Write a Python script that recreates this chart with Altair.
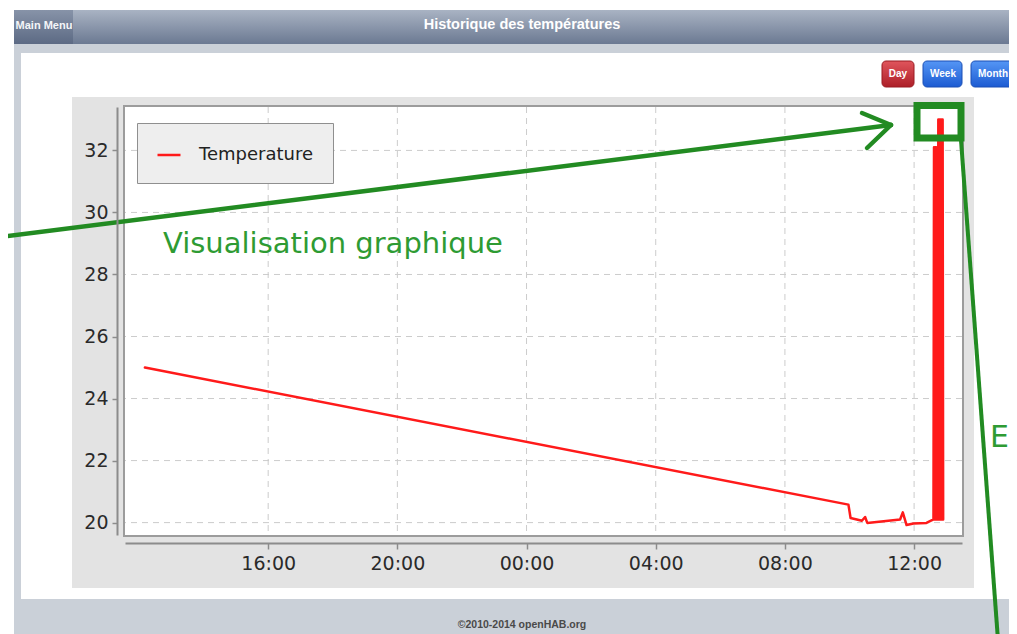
import altair as alt
import pandas as pd

# ---------------- data ----------------
series_name = "Temperature"
times = [
    "2014-06-10T12:11", "2014-06-11T09:58", "2014-06-11T10:02", "2014-06-11T10:23",
    "2014-06-11T10:29", "2014-06-11T10:33", "2014-06-11T11:34", "2014-06-11T11:39",
    "2014-06-11T11:46", "2014-06-11T11:59", "2014-06-11T12:23", "2014-06-11T12:36",
    "2014-06-11T12:37", "2014-06-11T12:38", "2014-06-11T12:39", "2014-06-11T12:40",
    "2014-06-11T12:41", "2014-06-11T12:42", "2014-06-11T12:43", "2014-06-11T12:44",
    "2014-06-11T12:45", "2014-06-11T12:46", "2014-06-11T12:47", "2014-06-11T12:48",
    "2014-06-11T12:49", "2014-06-11T12:50", "2014-06-11T12:51", "2014-06-11T12:52",
    "2014-06-11T12:53", "2014-06-11T12:54",
]
temps = [
    25.0, 20.58, 20.15, 20.06,
    20.18, 19.99, 20.10, 20.33,
    19.92, 19.97, 19.99, 20.10,
    32.1, 20.1, 32.1, 20.1,
    32.1, 20.1, 32.1, 20.1,
    33.0, 20.1, 33.0, 20.1,
    33.0, 20.1, 33.0, 20.1,
    33.0, 20.1,
]
y_ticks = [20, 22, 24, 26, 28, 30, 32]
x_ticks = [(2014, 6, 10, 16), (2014, 6, 10, 20), (2014, 6, 11, 0),
           (2014, 6, 11, 4), (2014, 6, 11, 8), (2014, 6, 11, 12)]
x_tick_strings = ["%04d-%02d-%02dT%02d:00" % t for t in x_ticks]

line_df = pd.DataFrame({"t": times, "v": temps, "series": [series_name] * len(times)})
ygrid_df = pd.DataFrame({"v": y_ticks})
xgrid_df = pd.DataFrame({"t": x_tick_strings})
dummy = pd.DataFrame({"d": [0]})

# ---------------- scales / axes ----------------
FONT = "DejaVu Sans"
xs = alt.Scale(domain=[alt.DateTime(year=2014, month=6, date=10, hours=11, minutes=34),
                       alt.DateTime(year=2014, month=6, date=11, hours=13, minutes=29)],
               nice=False)
ys = alt.Scale(domain=[19.6, 33.4], nice=False, zero=False)
xaxis = alt.Axis(values=[alt.DateTime(year=a, month=b, date=c, hours=d) for a, b, c, d in x_ticks],
                 format="%H:%M", title=None, grid=False, offset=8, tickSize=6, labelPadding=5,
                 domainColor="#8c8c8c", domainWidth=2, tickColor="#8c8c8c", tickWidth=1.5,
                 labelFont=FONT, labelFontSize=19, labelColor="#2a2a2a", zindex=1)
yaxis = alt.Axis(values=y_ticks, title=None, grid=False, offset=8, tickSize=5, labelPadding=4,
                 domainColor="#8c8c8c", domainWidth=2, tickColor="#8c8c8c", tickWidth=1.5,
                 labelFont=FONT, labelFontSize=19, labelColor="#2a2a2a", zindex=1)

OX, OY = 125, 107  # page position of plot origin


def px(x):
    return x - OX


def py(y):
    return y - OY


def grad(c1, c2):
    return {"gradient": "linear", "x1": 0, "y1": 0, "x2": 0, "y2": 1,
            "stops": [{"offset": 0, "color": c1}, {"offset": 1, "color": c2}]}


def rect(x1, x2, y1, y2, **kw):
    return alt.Chart(dummy).mark_rect(**kw).encode(
        x=alt.value(px(x1)), x2=alt.value(px(x2)), y=alt.value(py(y1)), y2=alt.value(py(y2)))


def seg(x1, y1, x2, y2, **kw):
    return alt.Chart(dummy).mark_rule(**kw).encode(
        x=alt.value(px(x1)), y=alt.value(py(y1)), x2=alt.value(px(x2)), y2=alt.value(py(y2)))


def label(txt, x, y, **kw):
    return alt.Chart(dummy).mark_text(text=txt, **kw).encode(x=alt.value(px(x)), y=alt.value(py(y)))


GREEN = "#228b22"

# page background pieces
bg = rect(14, 1017, 44, 640, color="#cad0d8")
header = rect(14, 1017, 10, 44, fill=grad("#a9b3c3", "#6b7992"))
menu_btn = rect(14, 73, 10, 44, fill=grad("#8793a8", "#5c6a84"))
panel = rect(21, 1017, 53, 599, color="#ffffff")
frame = rect(72, 974, 97, 588, color="#e3e3e3")
plot_bg = rect(124, 963, 106, 536, fill="#ffffff", stroke="#9c9c9c", strokeWidth=2)

ygrid = alt.Chart(ygrid_df).mark_rule(color="#cccccc", strokeWidth=1, strokeDash=[6, 5]).encode(
    y=alt.Y("v:Q", scale=ys, axis=yaxis))
xgrid = alt.Chart(xgrid_df).mark_rule(color="#cccccc", strokeWidth=1, strokeDash=[6, 5]).encode(
    x=alt.X("t:T", scale=xs, axis=xaxis))

legend = alt.Legend(orient="none", legendX=12, legendY=16, title=None, fillColor="#eeeeee",
                    strokeColor="#8f8f8f", padding=19, symbolType="stroke", symbolSize=529,
                    symbolStrokeWidth=2.5, labelFont=FONT, labelFontSize=18, labelColor="#222222",
                    labelOffset=17, zindex=1)

line = alt.Chart(line_df).mark_line(strokeWidth=2.5, strokeJoin="round", strokeCap="round").encode(
    x=alt.X("t:T", scale=xs, axis=xaxis),
    y=alt.Y("v:Q", scale=ys, axis=yaxis),
    color=alt.Color("series:N", scale=alt.Scale(domain=[series_name], range=["#ff1a1a"]), legend=legend),
)

# buttons
day_btn = rect(882, 914, 61, 87, fill=grad("#e0555c", "#ad1f28"), stroke="#9a1b22", strokeWidth=1, cornerRadius=4)
week_btn = rect(923, 962, 61, 87, fill=grad("#5596f5", "#1c5bd2"), stroke="#1a4fb5", strokeWidth=1, cornerRadius=4)
month_btn = rect(971, 1030, 61, 87, fill=grad("#5596f5", "#1c5bd2"), stroke="#1a4fb5", strokeWidth=1, cornerRadius=4)
btn_kw = dict(font="Liberation Sans", fontSize=10, fontWeight="bold", color="#ffffff",
              align="center", baseline="middle")
day_t = label("Day", 898, 74, **btn_kw)
week_t = label("Week", 943, 74, **btn_kw)
month_t = label("Month", 993, 74, **btn_kw)

# header texts
title_t = label("Historique des températures", 522, 25, font="Liberation Sans", fontSize=14.5,
                fontWeight="bold", color="#ffffff", align="center", baseline="middle")
menu_t = label("Main Menu", 44, 26, font="Liberation Sans", fontSize=11, fontWeight="bold",
               color="#f4f6f8", align="center", baseline="middle")
footer_t = label("©2010-2014 openHAB.org", 522, 625, font="Liberation Sans", fontSize=10.5,
                 fontWeight="bold", color="#4a4a4a", align="center", baseline="middle")

# green annotations
arrow = seg(0, 237, 891, 125, color=GREEN, strokeWidth=4.5, strokeCap="round")
head1 = seg(862, 113, 891, 125, color=GREEN, strokeWidth=4.5, strokeCap="round")
head2 = seg(867, 148, 891, 125, color=GREEN, strokeWidth=4.5, strokeCap="round")
box = rect(917, 961, 105.5, 138, fill="transparent", stroke=GREEN, strokeWidth=7)
long_line = seg(961, 140, 998, 640, color=GREEN, strokeWidth=4)
vis_t = label("Visualisation graphique", 163, 253, font=FONT, fontSize=29, color="#2e9b33",
              align="left", baseline="alphabetic")
e_t = label("E", 990, 447, font=FONT, fontSize=30, color="#2e9b33", align="left", baseline="alphabetic")

chart = alt.layer(
    bg, header, menu_btn, panel, frame, plot_bg, ygrid, xgrid, line,
    day_btn, week_btn, month_btn, day_t, week_t, month_t,
    title_t, menu_t, footer_t,
    arrow, head1, head2, box, long_line, vis_t, e_t,
).properties(
    width=837, height=428,
    autosize=alt.AutoSizeParams(type="none"),
    padding={"left": 117, "top": 99, "right": 47, "bottom": 99},
).configure_view(stroke="transparent")

chart.save("out.html", embed_options={"renderer": "svg", "actions": False})
